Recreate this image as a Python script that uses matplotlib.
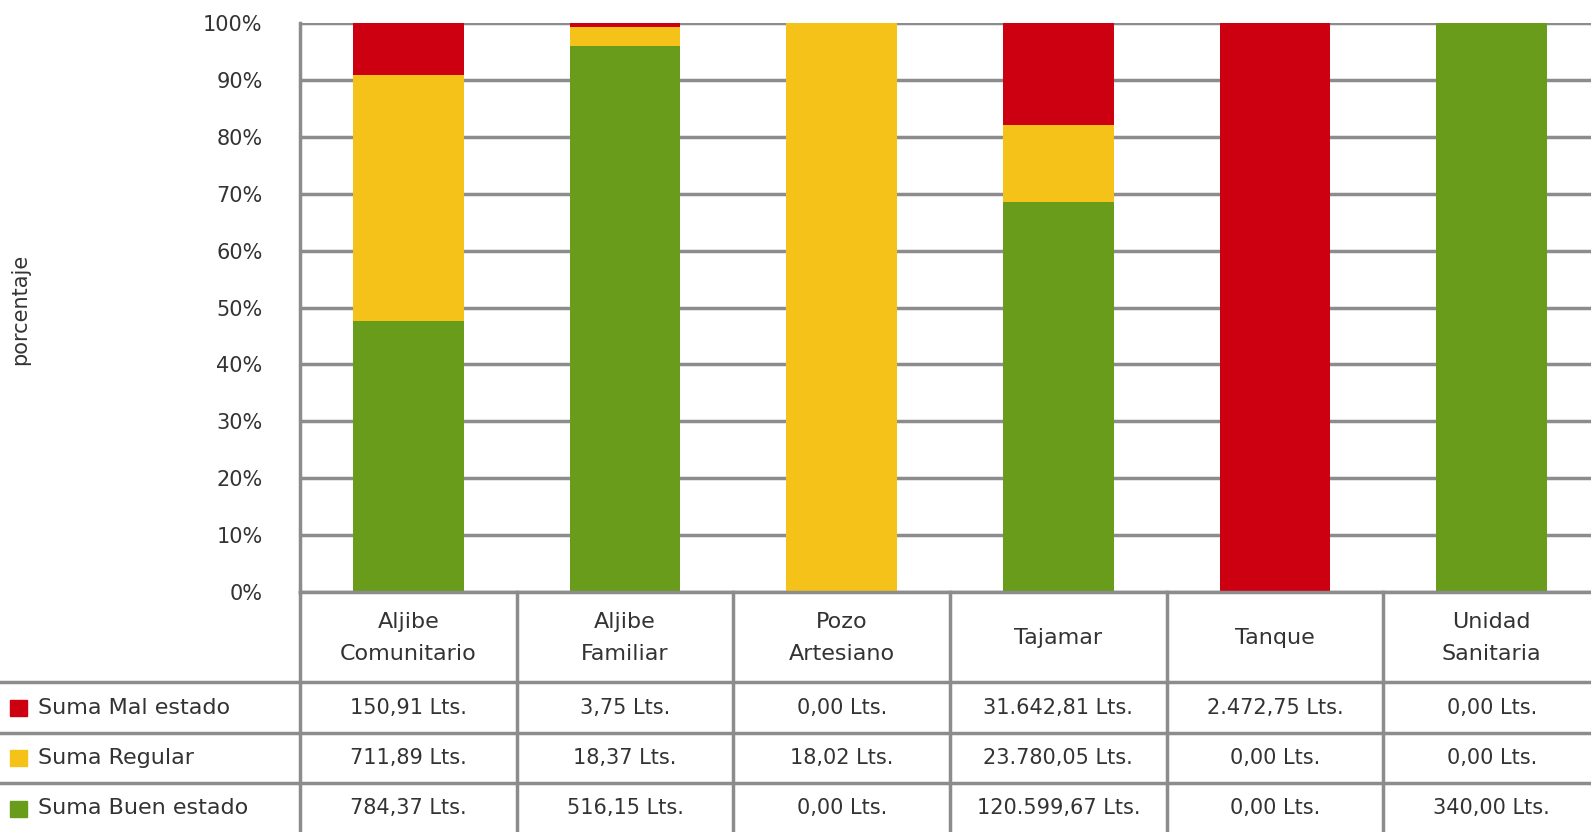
import matplotlib.pyplot as plt
from matplotlib.patches import Rectangle

# =========================
# DATOS
# =========================
categorias = ["Aljibe\nComunitario", "Aljibe\nFamiliar", "Pozo\nArtesiano",
              "Tajamar", "Tanque", "Unidad\nSanitaria"]
series = ["Suma Mal estado", "Suma Regular", "Suma Buen estado"]
mal_estado = [150.91, 3.75, 0.00, 31642.81, 2472.75, 0.00]
regular = [711.89, 18.37, 18.02, 23780.05, 0.00, 0.00]
buen_estado = [784.37, 516.15, 0.00, 120599.67, 0.00, 340.00]
colores = ["#CC0010", "#F5C21A", "#6A9C1C"]
ticks_y = ["0%", "10%", "20%", "30%", "40%", "50%", "60%", "70%", "80%", "90%", "100%"]


def litros(v):
    s = f"{v:,.2f}".replace(",", "X").replace(".", ",").replace("X", ".")
    return s + " Lts."


W, H = 1591, 832
GRIS = "#8c8c8c"
TXT = "#333333"

fig = plt.figure(figsize=(W / 100, H / 100), dpi=100)
fig.patch.set_facecolor("white")

# =========================
# BARRAS APILADAS 100%
# =========================
ax = fig.add_axes([300 / W, 1 - 592 / H, 1300 / W, (592 - 23) / H])
totales = [m + r + b for m, r, b in zip(mal_estado, regular, buen_estado)]
p_buen = [b / t for b, t in zip(buen_estado, totales)]
p_reg = [r / t for r, t in zip(regular, totales)]
p_mal = [m / t for m, t in zip(mal_estado, totales)]
x = list(range(len(categorias)))
base2 = [a + b for a, b in zip(p_buen, p_reg)]

ax.bar(x, p_buen, width=0.51, color=colores[2], zorder=3)
ax.bar(x, p_reg, width=0.51, bottom=p_buen, color=colores[1], zorder=3)
ax.bar(x, p_mal, width=0.51, bottom=base2, color=colores[0], zorder=3)

ax.set_xlim(-0.5, 5.5)
ax.set_ylim(0, 1)
ax.set_yticks([i / 10 for i in range(11)])
ax.set_yticklabels(ticks_y, fontsize=15, color=TXT)
ax.tick_params(axis="y", length=0, pad=27)
ax.set_xticks([])
ax.grid(axis="y", color=GRIS, lw=2.5, zorder=0)
for s in ["top", "right"]:
    ax.spines[s].set_visible(False)
for s in ["left", "bottom"]:
    ax.spines[s].set_color(GRIS)
    ax.spines[s].set_linewidth(2.5)
    ax.spines[s].set_zorder(4)

fig.text(20 / W, 1 - 309 / H, "porcentaje", rotation=90, fontsize=15,
         color=TXT, ha="center", va="center")

# =========================
# TABLA DE DATOS
# =========================
tab = fig.add_axes([0, 0, 1600 / W, (832 - 592) / H])
x0 = -0.5 - 300 / (1300 / 6)
tab.set_xlim(x0, 5.5)
tab.set_ylim(832, 592)
tab.axis("off")

filas_y = [682, 733, 783, 834]
# lineas horizontales
for y in filas_y:
    tab.plot([x0, 5.5], [y, y], color=GRIS, lw=2.5, clip_on=False)
# lineas verticales
for i in range(7):
    tab.plot([i - 0.5, i - 0.5], [592, 834], color=GRIS, lw=2.5, clip_on=False)

for i, cat in enumerate(categorias):
    tab.text(i, 638, cat, ha="center", va="center", fontsize=16, color=TXT,
             linespacing=1.75)

valores = [mal_estado, regular, buen_estado]
for r in range(3):
    yc = (filas_y[r] + filas_y[r + 1]) / 2
    tab.add_patch(Rectangle((x0 + 10 / 216.67, yc - 8), 17 / 216.67, 16,
                            color=colores[r], clip_on=False))
    tab.text(x0 + 38 / 216.67, yc, series[r], ha="left", va="center",
             fontsize=16, color=TXT)
    for i, v in enumerate(valores[r]):
        tab.text(i, yc, litros(v), ha="center", va="center", fontsize=15,
                 color=TXT)

fig.savefig("out.png", dpi=100, facecolor="white")
